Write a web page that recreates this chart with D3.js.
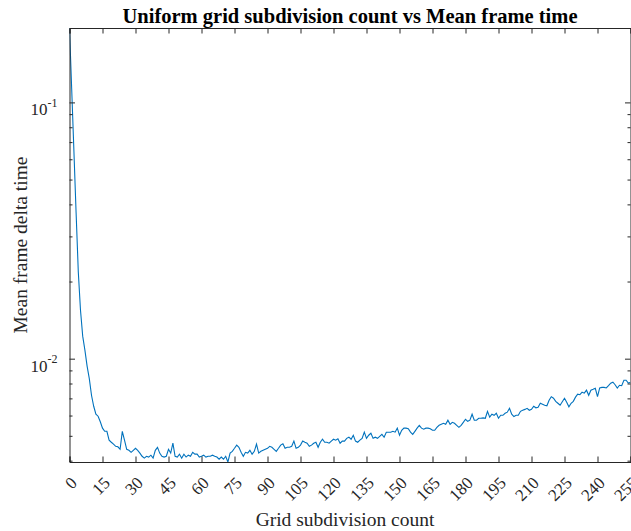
<!DOCTYPE html>
<html>
<head>
<meta charset="utf-8">
<script src="https://cdn.jsdelivr.net/npm/d3@7"></script>
<style>
  body { margin: 0; background: #fff; }
  svg { display: block; font-family: 'Liberation Serif', 'Times New Roman', serif; }
</style>
</head>
<body>
<svg id="chart" width="631" height="531"></svg>
<script>
// mean frame delta time (s) per uniform grid subdivision count 0..255
const subdivisions = d3.range(0, 256);
const frameTimes = [
  0.196, 0.113, 0.065, 0.0373, 0.0219, 0.01553, 0.0123, 0.01084, 0.0094, 0.0084,
  0.00723, 0.00655, 0.0061, 0.00599, 0.0057, 0.00538, 0.00523, 0.00523, 0.00483, 0.00474,
  0.00466, 0.00457, 0.00455, 0.00445, 0.00523, 0.00483, 0.00445, 0.00441, 0.00433, 0.00441,
  0.00449, 0.00441, 0.0043, 0.00418, 0.00411, 0.00418, 0.00415, 0.00422, 0.00411, 0.00441,
  0.00453, 0.0043, 0.00418, 0.00415, 0.00418, 0.00445, 0.0043, 0.0047, 0.00418, 0.00415,
  0.00426, 0.00411, 0.00426, 0.00415, 0.00422, 0.00418, 0.00433, 0.00426, 0.00426, 0.00415,
  0.00418, 0.00422, 0.00415, 0.00418, 0.00418, 0.00422, 0.00418, 0.00415, 0.00407, 0.00415,
  0.00407, 0.00418, 0.00397, 0.0043, 0.00437, 0.00449, 0.00462, 0.00453, 0.00433, 0.00418,
  0.00433, 0.0043, 0.00441, 0.00426, 0.00437, 0.00466, 0.0043, 0.00437, 0.00441, 0.00445,
  0.00449, 0.00457, 0.00453, 0.00445, 0.00437, 0.00449, 0.00462, 0.00468, 0.00449, 0.00453,
  0.00453, 0.00457, 0.00479, 0.00449, 0.00453, 0.00462, 0.00479, 0.00474, 0.0047, 0.00457,
  0.00462, 0.0047, 0.00474, 0.00453, 0.00474, 0.00487, 0.00474, 0.00474, 0.0047, 0.00479,
  0.00487, 0.00483, 0.00489, 0.0047, 0.00479, 0.00479, 0.00491, 0.00496, 0.00487, 0.00505,
  0.00479, 0.00474, 0.00483, 0.00491, 0.00519, 0.00491, 0.00505, 0.00514, 0.00491, 0.00496,
  0.00491, 0.005, 0.00509, 0.00496, 0.00519, 0.00519, 0.00519, 0.00523, 0.00519, 0.00538,
  0.00505, 0.00528, 0.00538, 0.00538, 0.00535, 0.00519, 0.00509, 0.00523, 0.00538, 0.00552,
  0.00538, 0.00533, 0.00538, 0.00538, 0.00535, 0.00528, 0.00528, 0.00542, 0.00552, 0.00557,
  0.00562, 0.00557, 0.00578, 0.00557, 0.00567, 0.00562, 0.00552, 0.00542, 0.00552, 0.00567,
  0.00583, 0.00572, 0.00578, 0.0061, 0.00578, 0.00578, 0.00588, 0.00588, 0.0059, 0.00588,
  0.00626, 0.00594, 0.0061, 0.00604, 0.00615, 0.00588, 0.00604, 0.00604, 0.00615, 0.00621,
  0.00643, 0.0061, 0.00597, 0.00604, 0.00604, 0.00626, 0.00632, 0.00637, 0.00643, 0.00632,
  0.00637, 0.00655, 0.00646, 0.00649, 0.00673, 0.00667, 0.00661, 0.00658, 0.00691, 0.00714,
  0.00704, 0.00685, 0.00673, 0.00661, 0.00682, 0.00704, 0.00679, 0.00652, 0.00673, 0.00685,
  0.00711, 0.0073, 0.00727, 0.00743, 0.00737, 0.00757, 0.00723, 0.00757, 0.00763, 0.0077,
  0.00714, 0.00772, 0.00776, 0.00776, 0.00772, 0.00788, 0.00806, 0.00813, 0.00795, 0.00772,
  0.00791, 0.00788, 0.00828, 0.00828, 0.00806, 0.00813
];
const xTicks = d3.range(0, 256, 15);

const titleText = 'Uniform grid subdivision count vs Mean frame time';
const xLabelText = 'Grid subdivision count';
const yLabelText = 'Mean frame delta time';

const margin = {top: 28, right: 0.5, bottom: 69, left: 69.5};
const width = 631 - margin.left - margin.right;
const height = 531 - margin.top - margin.bottom;
const axisColor = '#262626';
const lineColor = '#0072bd';

const svg = d3.select('#chart');
const g = svg.append('g')
  .attr('transform', 'translate(' + margin.left + ',' + margin.top + ')');

const x = d3.scaleLinear()
  .domain([0, 255])
  .range([0, width]);

const y = d3.scaleLog()
  .domain([d3.min(frameTimes), d3.max(frameTimes)])
  .range([height, 0]);

// data line
const line = d3.line()
  .x((d, i) => x(subdivisions[i]))
  .y(d => y(d));

g.append('defs').append('clipPath').attr('id', 'plotClip')
  .append('rect').attr('width', width).attr('height', height);

g.append('path')
  .datum(frameTimes)
  .attr('clip-path', 'url(#plotClip)')
  .attr('fill', 'none')
  .attr('stroke', lineColor)
  .attr('stroke-width', 1.1)
  .attr('d', line);

// axes (ticks pointing inward, box on)
const majorLen = 5.5, minorLen = 3;
const yTicks = y.ticks();
const isMajor = v => Math.abs(Math.log10(v) - Math.round(Math.log10(v))) < 1e-6;

const bottomAxis = d3.axisBottom(x).tickValues(xTicks).tickSize(-majorLen).tickFormat('');
const topAxis = d3.axisTop(x).tickValues(xTicks).tickSize(-majorLen).tickFormat('');
g.append('g').attr('transform', 'translate(0,' + height + ')').call(bottomAxis);
g.append('g').call(topAxis);

g.append('g').call(d3.axisLeft(y).tickValues([]).tickSizeOuter(0));
g.append('g').attr('transform', 'translate(' + width + ',0)')
  .call(d3.axisRight(y).tickValues([]).tickSizeOuter(0));

yTicks.forEach(v => {
  const len = isMajor(v) ? majorLen : minorLen;
  g.append('line').attr('x1', 0).attr('x2', len)
    .attr('y1', y(v)).attr('y2', y(v)).attr('stroke', axisColor);
  g.append('line').attr('x1', width).attr('x2', width - len)
    .attr('y1', y(v)).attr('y2', y(v)).attr('stroke', axisColor);
});

g.selectAll('.domain').attr('stroke', axisColor);
g.selectAll('.tick line').attr('stroke', axisColor);

// x tick labels rotated 45 degrees
g.selectAll('.xlab')
  .data(xTicks)
  .enter()
  .append('text')
  .attr('class', 'xlab')
  .attr('transform', d => 'translate(' + (x(d) + 8.5) + ',' + (height + 22) + ') rotate(-45)')
  .attr('text-anchor', 'end')
  .style('font-size', '17px')
  .style('fill', axisColor)
  .text(d => d);

// y tick labels as powers of ten
const yLab = g.selectAll('.ylab')
  .data(yTicks.filter(isMajor))
  .enter()
  .append('text')
  .attr('class', 'ylab')
  .attr('text-anchor', 'end')
  .attr('x', -12)
  .attr('y', d => y(d) + 12.5)
  .style('font-size', '17px')
  .style('fill', axisColor);
yLab.append('tspan').text('10');
yLab.append('tspan')
  .attr('dy', -8.5)
  .style('font-size', '12px')
  .text(d => Math.round(Math.log10(d)));

// title and axis labels
svg.append('text')
  .attr('x', margin.left + width / 2)
  .attr('y', 22.5)
  .attr('text-anchor', 'middle')
  .style('font-weight', 'bold')
  .style('font-size', '20.5px')
  .style('fill', '#000')
  .text(titleText);

svg.append('text')
  .attr('x', margin.left + width / 2 - 5)
  .attr('y', 526)
  .attr('text-anchor', 'middle')
  .style('font-size', '19.5px')
  .style('fill', axisColor)
  .text(xLabelText);

svg.append('text')
  .attr('transform', 'translate(27,' + (margin.top + height / 2) + ') rotate(-90)')
  .attr('text-anchor', 'middle')
  .style('font-size', '19.5px')
  .style('fill', axisColor)
  .text(yLabelText);
</script>
</body>
</html>
